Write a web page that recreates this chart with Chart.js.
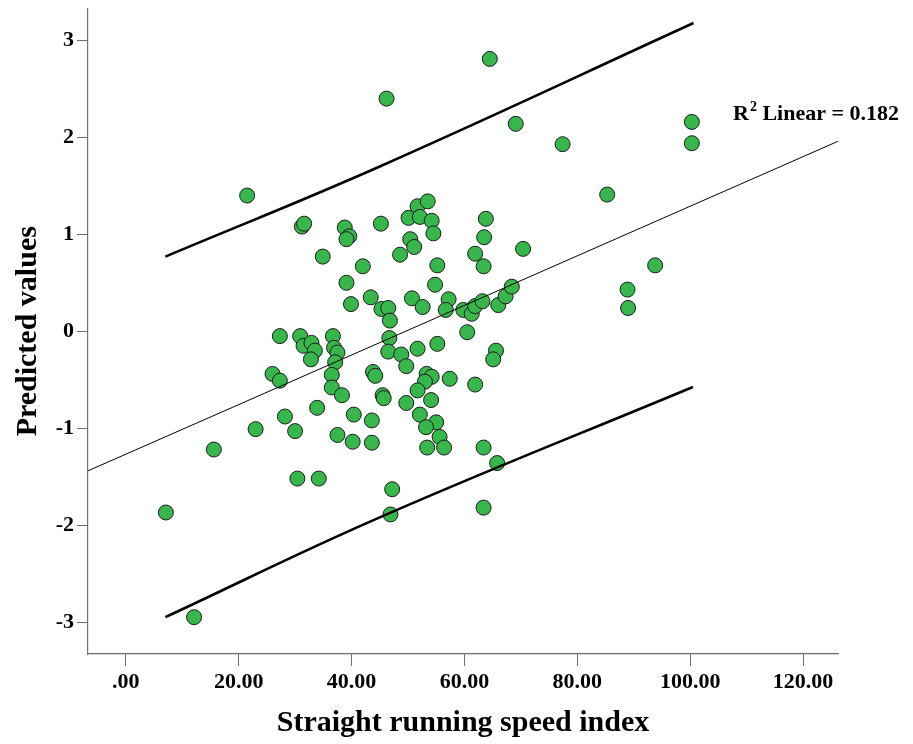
<!DOCTYPE html>
<html>
<head>
<meta charset="utf-8">
<script src="https://cdn.jsdelivr.net/npm/chart.js@4"></script>
<style>
  body { margin: 0; background: #fff; }
</style>
</head>
<body>
<canvas id="myChart" width="913" height="744"></canvas>
<script>
// straight running speed index (x) and predicted values (y) for each case
const speedIndex = [
  21.5, 31.2, 31.6, 38.8, 39.6, 39.1, 45.2, 46.2, 64.5, 69.1, 77.4, 85.3, 100.3, 100.3,
  50.1, 51.7, 53.5, 52.1, 54.2, 54.5, 50.4, 51.1, 48.6, 63.8, 63.5, 70.4, 61.9, 63.4,
  34.9, 42.0, 39.1, 39.9, 43.4, 45.3, 46.5, 46.8, 55.2, 54.8, 50.7, 52.6, 57.2, 56.7,
  59.8, 61.3, 61.9, 63.2, 66.0, 67.3, 68.4, 93.8, 88.9, 89.0,
  60.5, 65.6, 65.1, 46.7, 46.5, 48.8, 51.7, 55.2, 49.7,
  27.3, 30.9, 31.5, 32.9, 33.5, 32.8, 36.7, 36.9, 37.5, 37.1, 36.5, 36.5, 38.3,
  26.0, 27.3, 33.9, 28.2, 23.0, 30.0, 40.4, 43.6, 37.5, 40.2, 43.6, 43.8, 44.2,
  45.5, 45.7, 53.3, 54.2, 53.0, 57.4, 61.9, 51.7, 49.7, 54.1, 52.1, 55.0, 53.2,
  55.6, 53.4, 56.4, 63.4, 65.8, 47.2, 46.9, 63.4, 15.6, 30.4, 34.2, 7.1, 12.1
];
const predicted = [
  1.40, 1.08, 1.11, 1.07, 0.98, 0.95, 1.11, 2.40, 2.81, 2.14, 1.93, 1.41, 2.16, 1.94,
  1.17, 1.29, 1.34, 1.18, 1.14, 1.01, 0.95, 0.87, 0.79, 1.16, 0.97, 0.85, 0.80, 0.67,
  0.77, 0.67, 0.50, 0.28, 0.35, 0.23, 0.24, 0.11, 0.68, 0.48, 0.34, 0.25, 0.33, 0.22,
  0.22, 0.18, 0.26, 0.31, 0.27, 0.36, 0.46, 0.68, 0.43, 0.24,
  -0.01, -0.20, -0.29, -0.07, -0.21, -0.24, -0.18, -0.13, -0.36,
  -0.05, -0.05, -0.15, -0.12, -0.20, -0.29, -0.05, -0.17, -0.22, -0.32, -0.45, -0.58, -0.66,
  -0.44, -0.51, -0.79, -0.88, -1.01, -1.03, -0.86, -0.92, -1.07, -1.14, -1.15, -0.42, -0.46,
  -0.66, -0.69, -0.44, -0.47, -0.52, -0.49, -0.55, -0.61, -0.74, -0.71, -0.86, -0.94, -0.99,
  -1.09, -1.20, -1.20, -1.20, -1.36, -1.63, -1.89, -1.82, -1.22, -1.52, -1.52, -1.87, -2.95
];

// fit line and the two interval lines
const fitX = [-6.7, 126.2];
const fitY = [-1.44, 1.96];
const upperX = [7, 45, 100.6];
const upperY = [0.77, 1.70, 3.18];
const lowerX = [7, 45, 100.5];
const lowerY = [-2.95, -1.92, -0.575];

const xTicks = [0, 20, 40, 60, 80, 100, 120];
const xTickLabels = ['.00', '20.00', '40.00', '60.00', '80.00', '100.00', '120.00'];
const yTicks = [-3, -2, -1, 0, 1, 2, 3];
const yTickLabels = ['-3', '-2', '-1', '0', '1', '2', '3'];

const fitLabel = 'Linear = 0.182';

function pairs(xs, ys) {
  return xs.map((x, i) => ({ x: x, y: ys[i] }));
}

const serif = '"Liberation Serif", "Times New Roman", serif';

// R² label to the right of the plot
const r2Plugin = {
  id: 'r2Label',
  afterDraw(chart) {
    const ctx = chart.ctx;
    ctx.save();
    ctx.fillStyle = '#000';
    ctx.textBaseline = 'alphabetic';
    let x = 733, y = 120;
    ctx.font = 'bold 22px ' + serif;
    ctx.fillText('R', x, y);
    x += ctx.measureText('R').width + 1;
    ctx.font = 'bold 14px ' + serif;
    ctx.fillText('2', x, y - 9);
    x += ctx.measureText('2').width;
    ctx.font = 'bold 22px ' + serif;
    ctx.fillText(' ' + fitLabel, x, y);
    ctx.restore();
  }
};

const axisGrey = '#6e6e6e';

const config = {
  type: 'scatter',
  data: {
    datasets: [
      {
        label: 'fit',
        type: 'line',
        data: pairs(fitX, fitY),
        borderColor: '#000',
        borderWidth: 1,
        pointRadius: 0,
        fill: false,
        order: 0
      },
      {
        label: 'upper',
        type: 'line',
        data: pairs(upperX, upperY),
        borderColor: '#000',
        borderWidth: 2.6,
        pointRadius: 0,
        tension: 0.4,
        fill: false,
        order: 0
      },
      {
        label: 'lower',
        type: 'line',
        data: pairs(lowerX, lowerY),
        borderColor: '#000',
        borderWidth: 2.6,
        pointRadius: 0,
        tension: 0.4,
        fill: false,
        order: 0
      },
      {
        label: 'Predicted values',
        data: pairs(speedIndex, predicted),
        backgroundColor: '#37b64c',
        borderColor: '#1c1c1c',
        borderWidth: 1,
        pointRadius: 7.5,
        pointHoverRadius: 7.5,
        order: 1
      }
    ]
  },
  options: {
    responsive: false,
    animation: false,
    layout: { padding: { top: 7, right: 75, left: 0, bottom: 0 } },
    plugins: {
      legend: { display: false },
      tooltip: { enabled: false }
    },
    scales: {
      x: {
        type: 'linear',
        min: -6.7,
        max: 126.2,
        afterBuildTicks(scale) {
          scale.ticks = xTicks.map(v => ({ value: v }));
        },
        afterFit(scale) {
          scale.height = 90;
          scale.paddingLeft = 0;
          scale.paddingRight = 0;
        },
        grid: {
          drawOnChartArea: false,
          drawTicks: true,
          tickLength: 12,
          tickColor: axisGrey
        },
        border: { color: axisGrey, width: 1.2 },
        ticks: {
          color: '#000',
          padding: 3,
          maxRotation: 0,
          font: { family: serif, size: 22, weight: 'bold' },
          callback: (v) => xTickLabels[xTicks.indexOf(v)]
        },
        title: {
          display: true,
          text: 'Straight running speed index',
          color: '#000',
          font: { family: serif, size: 30, weight: 'bold' },
          padding: { top: 0, bottom: 3 }
        }
      },
      y: {
        type: 'linear',
        min: -3.33,
        max: 3.33,
        afterBuildTicks(scale) {
          scale.ticks = yTicks.map(v => ({ value: v }));
        },
        afterFit(scale) {
          scale.width = 88;
          scale.paddingTop = 0;
          scale.paddingBottom = 0;
        },
        grid: {
          drawOnChartArea: false,
          drawTicks: true,
          tickLength: 11,
          tickColor: axisGrey
        },
        border: { color: axisGrey, width: 1.2 },
        ticks: {
          color: '#000',
          padding: 3,
          font: { family: serif, size: 22, weight: 'bold' },
          callback: (v) => yTickLabels[yTicks.indexOf(v)]
        },
        title: {
          display: true,
          text: 'Predicted values',
          color: '#000',
          font: { family: serif, size: 30, weight: 'bold' },
          padding: { top: 10, bottom: 0 }
        }
      }
    }
  },
  plugins: [r2Plugin]
};

const myChart = new Chart(document.getElementById('myChart'), config);
</script>
</body>
</html>
